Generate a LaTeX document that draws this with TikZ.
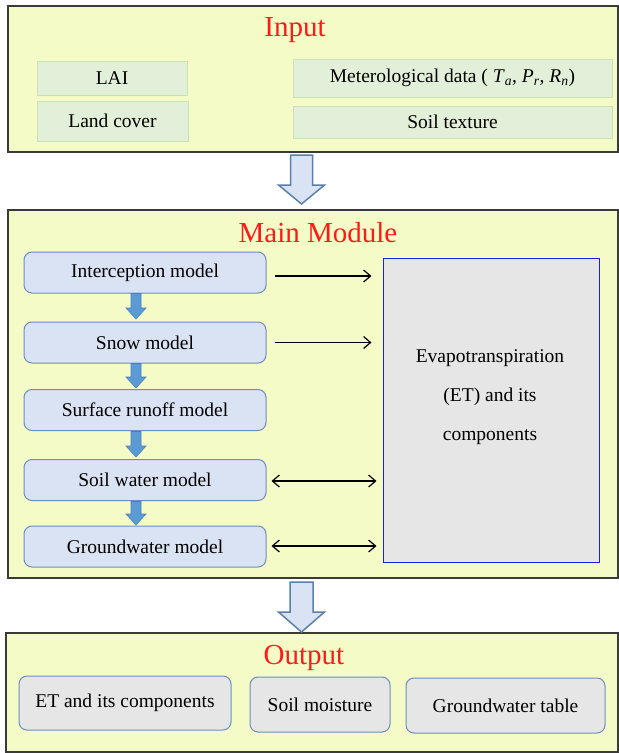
\documentclass[tikz,border=0pt]{standalone}
\usepackage{fontspec}
\IfFontExistsTF{LiberationSerif-Regular.ttf}{%
  \setmainfont{LiberationSerif}[Extension=.ttf, UprightFont=*-Regular, ItalicFont=*-Italic, BoldFont=*-Bold, BoldItalicFont=*-BoldItalic]}{%
  \setmainfont{Liberation Serif}}
\usetikzlibrary{arrows.meta,calc}
\definecolor{panel}{HTML}{F4FBC6}
\definecolor{panelborder}{HTML}{3A3A3A}
\definecolor{inbox}{HTML}{E2F0D9}
\definecolor{inborder}{HTML}{C8E4B0}
\definecolor{modfill}{HTML}{DAE3F3}
\definecolor{modborder}{HTML}{6C8EBF}
\definecolor{etfill}{HTML}{E6E6E6}
\definecolor{etborder}{HTML}{2020E0}
\definecolor{outfill}{HTML}{E7E6E6}
\definecolor{bigfill}{HTML}{DAE3F3}
\definecolor{bigborder}{HTML}{5A80AA}
\definecolor{smallfill}{HTML}{5B9BD5}
\definecolor{smallborder}{HTML}{4A80BA}
\definecolor{titlered}{HTML}{FF1A1A}
\tikzset{
  panelbox/.style={draw=panelborder, fill=panel, line width=1.5pt, inner sep=0pt},
  ptitle/.style={text=titlered, font=\fontsize{29}{32}\selectfont, inner sep=0pt},
  inputbox/.style={draw=inborder, fill=inbox, line width=1pt, inner sep=0pt, font=\fontsize{19.5}{22}\selectfont},
  modelbox/.style={draw=modborder, fill=modfill, line width=1pt, rounded corners=8pt, inner sep=0pt, minimum width=242pt, minimum height=41pt, font=\fontsize{19.5}{22}\selectfont},
  etbox/.style={draw=etborder, fill=etfill, line width=1pt, inner sep=0pt},
  outbox/.style={draw=modborder, fill=outfill, line width=1pt, rounded corners=8pt, inner sep=0pt, font=\fontsize{19.5}{22}\selectfont},
  bigarr/.style={draw=bigborder, fill=bigfill, line width=1.5pt, line join=miter},
  smallarr/.style={draw=smallborder, fill=smallfill, line width=0.6pt},
  link/.style={line width=1.2pt, -{Straight Barb[length=7pt,width=12pt,line width=1.2pt]}},
  dlink/.style={line width=1.2pt, {Straight Barb[length=7pt,width=12pt,line width=1.2pt]}-{Straight Barb[length=7pt,width=12pt,line width=1.2pt]}}
}
\newcommand\bigblockarrow[5]{% cx, top, headstart, tip, halfshaft
  \draw[bigarr] ({#1-#5},#2) -- ({#1+#5},#2) -- ({#1+#5},#3) -- ({#1+23},#3) -- (#1,#4) -- ({#1-23},#3) -- ({#1-#5},#3) -- cycle;}
\newcommand\smallblockarrow[3]{% cx, top, tip
  \draw[smallarr] ({#1-5},#2) -- ({#1+5},#2) -- ({#1+5},{#3-11}) -- ({#1+10},{#3-11}) -- (#1,#3) -- ({#1-10},{#3-11}) -- ({#1-5},{#3-11}) -- cycle;}
\begin{document}
\begin{tikzpicture}[x=1pt,y=-1pt]
\useasboundingbox (0,0) rectangle (619,753);
% panels
\node[panelbox, minimum width=610pt, minimum height=146pt] (input) at (313,79) {};
\node[panelbox, minimum width=610pt, minimum height=368pt] (main) at (313,394) {};
\node[panelbox, minimum width=612pt, minimum height=119pt] (output) at (312,692.5) {};
% titles
\node[ptitle] (tin) at (295,30) {Input};
\node[ptitle] (tmain) at (318,233) {Main Module};
\node[ptitle] (tout) at (304,658) {Output};
% input items
\node[inputbox, minimum width=150pt, minimum height=34pt] (lai) at (112,78) {LAI};
\node[inputbox, minimum width=151pt, minimum height=40pt] (lc) at (112.5,121) {Land cover};
\node[inputbox, minimum width=319pt, minimum height=38pt] (met) at (452.5,78) {Meterological data ( \textit{T}\textsubscript{\textit{a}}, \textit{P}\textsubscript{\textit{r}}, \textit{R}\textsubscript{\textit{n}})};
\node[inputbox, minimum width=319pt, minimum height=32pt] (soilt) at (452.5,122) {Soil texture};
% big arrows
\bigblockarrow{301.5}{155}{185}{204}{11}
\bigblockarrow{301.5}{582}{612}{632}{11.5}
% models
\node[modelbox] (int) at (145,272.5) {Interception model};
\node[modelbox] (snow) at (145,342.5) {Snow model};
\node[modelbox] (surf) at (145,410) {Surface runoff model};
\node[modelbox] (soil) at (145,480) {Soil water model};
\node[modelbox] (gw) at (145,546.5) {Groundwater model};
% small arrows
\smallblockarrow{136}{293.5}{319}
\smallblockarrow{136}{363.5}{388}
\smallblockarrow{136}{431.5}{457}
\smallblockarrow{136}{501.5}{525}
% ET
\node[etbox, minimum width=216pt, minimum height=304pt] (et) at (491,410) {};
\node[align=center, font=\fontsize{19.5}{39}\selectfont, inner sep=0pt] (ettext) at (490,397) {Evapotranspiration\\(ET) and its\\components};
% links
\draw[link] ($(int.east)+(8,3.5)$) -- ($(int.east -| et.west)+(-11,3.5)$);
\draw[link] ($(snow.east)+(8,0)$) -- ($(snow.east -| et.west)+(-11,0)$);
\draw[dlink] ($(soil.east)+(5,1)$) -- ($(soil.east -| et.west)+(-6,1)$);
\draw[dlink] ($(gw.east)+(5,-0.5)$) -- ($(gw.east -| et.west)+(-6,-0.5)$);
% outputs
\node[outbox, minimum width=212pt, minimum height=54pt] (eto) at (125,703) {ET and its components};
\node[outbox, minimum width=140pt, minimum height=55pt] (sm) at (320,704.5) {Soil moisture};
\node[outbox, minimum width=199pt, minimum height=55pt] (gwt) at (505.5,705.5) {Groundwater table};
\end{tikzpicture}
\end{document}
